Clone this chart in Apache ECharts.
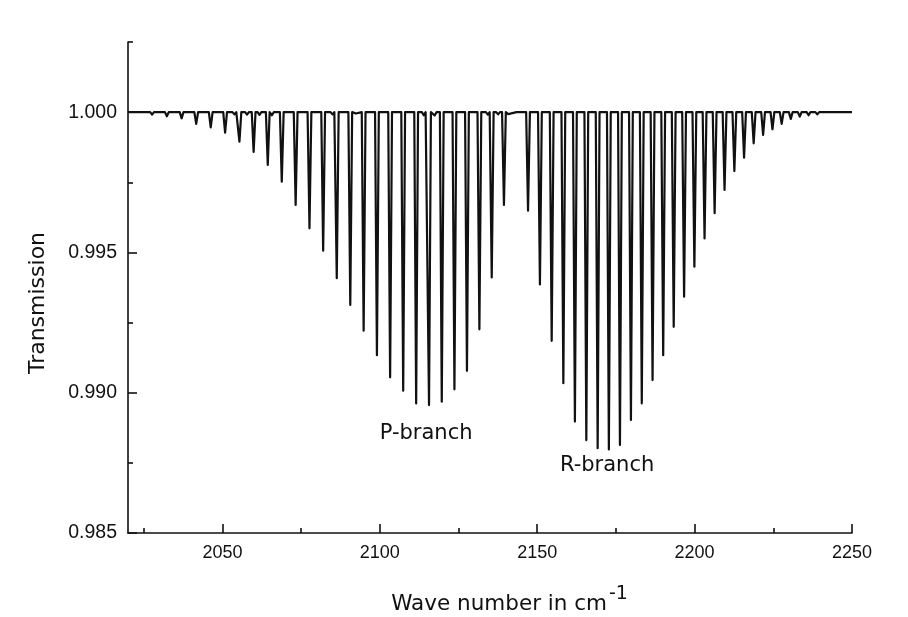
<!DOCTYPE html>
<html>
<head>
<meta charset="utf-8">
<script src="https://cdn.jsdelivr.net/npm/echarts@6/dist/echarts.min.js"></script>
<style>
  html, body { margin: 0; padding: 0; background: #ffffff; }
  #chart { width: 908px; height: 617px; }
</style>
</head>
<body>
<div id="chart"></div>
<script>
// CO fundamental band: line centres (cm^-1) and transmission at each line centre.
const pBranchWavenumber = [
  2022.92, 2027.65, 2032.35, 2037.03, 2041.67, 2046.28, 2050.85, 2055.40,
  2059.91, 2064.40, 2068.85, 2073.26, 2077.65, 2082.00, 2086.32, 2090.61,
  2094.86, 2099.08, 2103.27, 2107.42, 2111.54, 2115.63, 2119.68, 2123.70,
  2127.68, 2131.63, 2135.55, 2139.43
];
const pBranchTransmission = [
  0.99995, 0.99991, 0.99985, 0.99978, 0.99958, 0.99946, 0.99927, 0.99895,
  0.99858, 0.99812, 0.99752, 0.99669, 0.99586, 0.99506, 0.99408, 0.99313,
  0.99221, 0.99134, 0.99055, 0.99007, 0.98962, 0.98956, 0.98968, 0.99012,
  0.99078, 0.99226, 0.99411, 0.99669
];
const rBranchWavenumber = [
  2147.08, 2150.86, 2154.60, 2158.30, 2161.97, 2165.60, 2169.20, 2172.76,
  2176.28, 2179.77, 2183.22, 2186.64, 2190.02, 2193.36, 2196.66, 2199.93,
  2203.16, 2206.36, 2209.51, 2212.63, 2215.71, 2218.76, 2221.76, 2224.73,
  2227.66, 2230.55, 2233.40, 2236.21, 2238.98, 2241.72, 2244.42
];
const rBranchTransmission = [
  0.99649, 0.99386, 0.99185, 0.99034, 0.98897, 0.98831, 0.98802, 0.98798,
  0.98814, 0.98903, 0.98962, 0.99045, 0.99134, 0.99235, 0.99342, 0.99449,
  0.99550, 0.99640, 0.99723, 0.99790, 0.99838, 0.99889, 0.99919, 0.99939,
  0.99958, 0.99976, 0.99984, 0.99989, 0.99992, 0.99995, 0.99997
];
// Weak isotopologue lines that notch the baseline between the main lines.
const weakWavenumber = [
  2053.80, 2057.81, 2061.77, 2065.73, 2084.95, 2088.69, 2092.40,
  2113.95, 2117.42, 2134.30, 2137.57, 2140.80, 2144.00, 2156.45
];
const weakTransmission = [
  0.99992, 0.99991, 0.99990, 0.99989, 0.99992, 0.99994, 0.99995,
  0.99989, 0.99988, 0.99991, 0.99992, 0.99993, 0.99993, 0.99997
];

const xMajorTicks = [2050, 2100, 2150, 2200, 2250];
const xMinorTicks = [2025, 2075, 2125, 2175, 2225];
const yMajorTicks = [0.985, 0.990, 0.995, 1.000];
const yMinorTicks = [0.9875, 0.9925, 0.9975, 1.0025];

const baseline = 1.0;
const xRange = [2020, 2250];
const yRange = [0.985, 1.0025];

// Assemble the transmission trace: flat baseline with a narrow dip at every line.
const dips = [];
pBranchWavenumber.forEach((nu, i) => dips.push([nu, pBranchTransmission[i]]));
rBranchWavenumber.forEach((nu, i) => dips.push([nu, rBranchTransmission[i]]));
weakWavenumber.forEach((nu, i) => dips.push([nu, weakTransmission[i]]));
dips.sort((a, b) => a[0] - b[0]);

const HALF_WIDTH = 0.6; // cm^-1, half width of each drawn dip at the baseline
const trace = [[xRange[0] + 0.3, baseline]];
dips.forEach(([nu, t]) => {
  trace.push([nu - HALF_WIDTH, baseline], [nu, t], [nu + HALF_WIDTH, baseline]);
});
trace.push([xRange[1], baseline]);

const INK = '#111111';
const tickFamily = 'Liberation Sans, Arial, sans-serif';
const titleFont = 'DejaVu Sans, Verdana, sans-serif';

const grid = { left: 128, right: 56, top: 42, bottom: 84 };

function valueAxis(range, extra) {
  return Object.assign({
    type: 'value',
    min: range[0],
    max: range[1],
    splitLine: { show: false },
    axisLine: { show: true, onZero: false, lineStyle: { color: INK, width: 1.6 } }
  }, extra);
}

const chart = echarts.init(document.getElementById('chart'), null, { renderer: 'canvas' });
chart.setOption({
  animation: false,
  backgroundColor: '#ffffff',
  grid: grid,
  xAxis: [
    valueAxis(xRange, {
      position: 'bottom',
      axisTick: { show: true, inside: true, length: 9, customValues: xMajorTicks,
                  lineStyle: { color: INK, width: 1.6 } },
      axisLabel: { show: true, margin: 11, customValues: xMajorTicks,
                   formatter: v => String(v),
                   fontFamily: tickFamily, fontSize: 18, color: INK }
    }),
    valueAxis(xRange, {
      position: 'bottom',
      axisLine: { show: false, onZero: false },
      axisTick: { show: true, inside: true, length: 5, customValues: xMinorTicks,
                  lineStyle: { color: INK, width: 1.6 } },
      axisLabel: { show: false }
    })
  ],
  yAxis: [
    valueAxis(yRange, {
      position: 'left',
      axisTick: { show: true, inside: true, length: 9, customValues: yMajorTicks,
                  lineStyle: { color: INK, width: 1.6 } },
      axisLabel: { show: true, margin: 11, customValues: yMajorTicks,
                   formatter: v => v.toFixed(3),
                   fontFamily: tickFamily, fontSize: 19.5, color: INK }
    }),
    valueAxis(yRange, {
      position: 'left',
      axisLine: { show: false, onZero: false },
      axisTick: { show: true, inside: true, length: 5, customValues: yMinorTicks,
                  lineStyle: { color: INK, width: 1.6 } },
      axisLabel: { show: false }
    })
  ],
  series: [{
    type: 'line',
    xAxisIndex: 0,
    yAxisIndex: 0,
    data: trace,
    showSymbol: false,
    symbol: 'none',
    sampling: null,
    lineStyle: { color: INK, width: 2.2, join: 'round' },
    markPoint: {
      symbol: 'circle',
      symbolSize: 1,
      itemStyle: { color: 'rgba(0,0,0,0)' },
      label: { show: true, position: 'inside', color: INK, fontFamily: titleFont, fontSize: 21 },
      data: [
        { coord: [2114.7, 0.98853], label: { formatter: 'P-branch' } },
        { coord: [2172.2, 0.98739], label: { formatter: 'R-branch' } }
      ]
    }
  }],
  graphic: [
    {
      type: 'text',
      x: 38, y: 303,
      rotation: Math.PI / 2,
      style: { text: 'Transmission', fill: INK, font: '22px ' + titleFont,
               align: 'center', verticalAlign: 'middle' }
    },
    {
      type: 'text',
      x: 607, y: 604,
      style: { text: 'Wave number in cm', fill: INK, font: '21.5px ' + titleFont,
               align: 'right', verticalAlign: 'middle' }
    },
    {
      type: 'text',
      x: 609, y: 594,
      style: { text: '-1', fill: INK, font: '19px ' + titleFont,
               align: 'left', verticalAlign: 'middle' }
    }
  ]
});
</script>
</body>
</html>
